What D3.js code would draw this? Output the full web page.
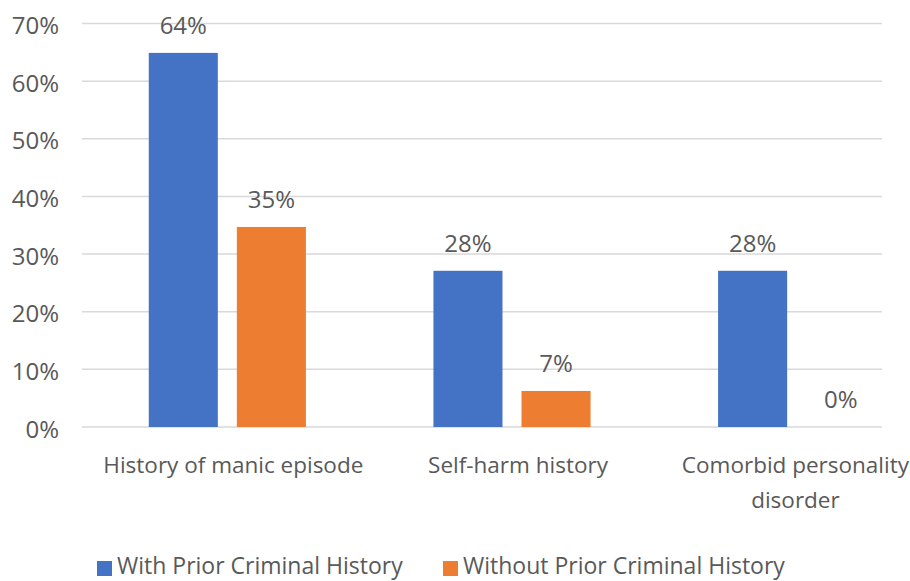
<!DOCTYPE html>
<html><head><meta charset="utf-8">
<script src="https://cdn.jsdelivr.net/npm/d3@7"></script>
<style>body{margin:0;background:#fff;} text{font-family:"Open Sans",sans-serif;}</style>
</head><body>
<svg id="chart" width="910" height="581"></svg>
<script>
const categories = [["History of manic episode"], ["Self-harm history"], ["Comorbid personality", "disorder"]];
const seriesNames = ["With Prior Criminal History", "Without Prior Criminal History"];
const withPrior = [0.649, 0.271, 0.271];
const withoutPrior = [0.347, 0.0625, 0];
const withPriorLabels = ["64%", "28%", "28%"];
const withoutPriorLabels = ["35%", "7%", "0%"];
const yTicks = [0, 0.1, 0.2, 0.3, 0.4, 0.5, 0.6, 0.7];
const colors = ["#4472C4", "#ED7D31"];

const svg = d3.select("#chart");
const catKeys = categories.map(c => c.join(" "));
const y = d3.scaleLinear().domain([0, 0.7]).range([427, 23.5]);
const p = 0.448;
const x0 = d3.scaleBand().domain(catKeys).range([85, 939]).paddingInner(p).paddingOuter(p / 2);
const x1 = d3.scaleBand().domain(seriesNames).range([0, x0.bandwidth()]).paddingInner(0.216).paddingOuter(0);

// gridlines
svg.append("g").selectAll("line").data(yTicks).join("line")
  .attr("x1", 82).attr("x2", 882)
  .attr("y1", d => y(d)).attr("y2", d => y(d))
  .attr("stroke", "#d9d9d9").attr("stroke-width", 1.5);

// y tick labels
svg.append("g").selectAll("text").data(yTicks).join("text")
  .attr("x", 59).attr("y", d => y(d) + 1)
  .attr("text-anchor", "end").attr("dominant-baseline", "central")
  .attr("font-size", 24).attr("fill", "#595959")
  .text(d => d3.format(".0%")(d));

const data = catKeys.map((k, i) => ({
  key: k,
  vals: [
    {s: seriesNames[0], v: withPrior[i], label: withPriorLabels[i], c: colors[0]},
    {s: seriesNames[1], v: withoutPrior[i], label: withoutPriorLabels[i], c: colors[1]}
  ]
}));

const groups = svg.append("g").selectAll("g").data(data).join("g")
  .attr("transform", d => `translate(${x0(d.key)},0)`);

groups.selectAll("rect").data(d => d.vals).join("rect")
  .attr("x", d => x1(d.s)).attr("width", x1.bandwidth())
  .attr("y", d => y(d.v)).attr("height", d => y(0) - y(d.v))
  .attr("fill", d => d.c);

groups.selectAll("text.lbl").data(d => d.vals).join("text").attr("class", "lbl")
  .attr("x", d => x1(d.s) + x1.bandwidth() / 2)
  .attr("y", d => y(d.v) - 19)
  .attr("text-anchor", "middle").attr("font-size", 24).attr("fill", "#595959")
  .text(d => d.label);

// category labels
const catG = svg.append("g").selectAll("text").data(categories).join("text")
  .attr("y", 473)
  .attr("text-anchor", "middle").attr("font-size", 22.5).attr("fill", "#595959");
catG.selectAll("tspan").data(d => d).join("tspan")
  .attr("dy", (d, i) => i === 0 ? 0 : 35)
  .text(d => d);
catG.each(function(d, i) {
  const t = d3.select(this);
  let w = 0;
  t.selectAll("tspan").each(function() { w = Math.max(w, this.getComputedTextLength()); });
  let cx = x0(catKeys[i]) + x0.bandwidth() / 2 + 6;
  cx = Math.min(cx, 910 - w / 2 - 1);
  t.attr("x", cx);
  t.selectAll("tspan").attr("x", cx);
});

// legend
const legendX = [97, 443];
const leg = svg.append("g").selectAll("g").data(seriesNames).join("g")
  .attr("transform", (d, i) => `translate(${legendX[i]},0)`);
leg.append("rect").attr("x", 0).attr("y", 561).attr("width", 15).attr("height", 15)
  .attr("fill", (d, i) => colors[i]);
leg.append("text").attr("x", 20).attr("y", 574)
  .attr("font-size", 23).attr("fill", "#595959").text(d => d);
</script>
</body></html>
